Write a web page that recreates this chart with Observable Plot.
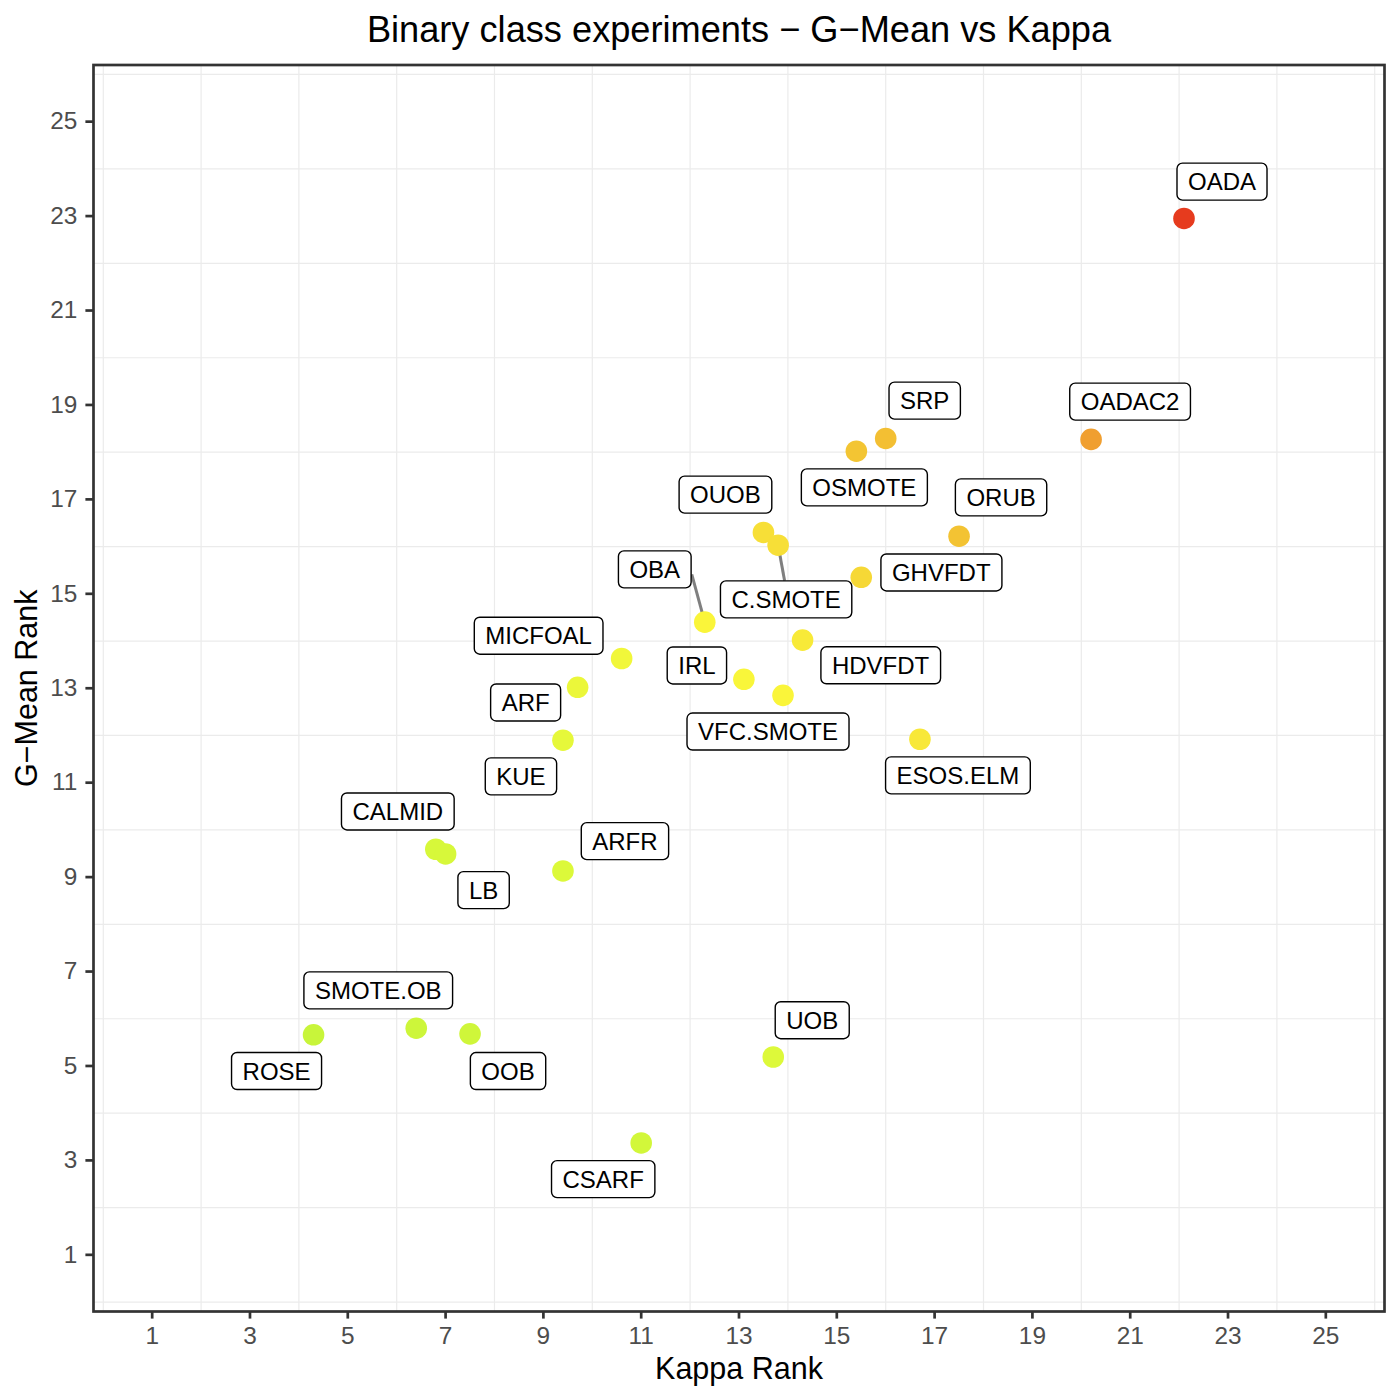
<!DOCTYPE html>
<html>
<head>
<meta charset="utf-8">
<script src="https://cdn.jsdelivr.net/npm/d3@7"></script>
<script src="https://cdn.jsdelivr.net/npm/@observablehq/plot@0.6"></script>
<style>
html, body { margin: 0; padding: 0; background: #ffffff; overflow: hidden; }
#chart svg { display: block; }
</style>
</head>
<body>
<div id="chart"></div>
<script>
// ---- data ----
const names = ["OADA","OADAC2","SRP","OSMOTE","ORUB","OUOB","C.SMOTE","GHVFDT","OBA","HDVFDT","MICFOAL","ARF","IRL","VFC.SMOTE","KUE","ESOS.ELM","CALMID","LB","ARFR","SMOTE.OB","ROSE","OOB","UOB","CSARF"];
const kappaRank = [22.1, 20.2, 16.0, 15.4, 17.5, 13.5, 13.8, 15.5, 12.3, 14.3, 10.6, 9.7, 13.1, 13.9, 9.4, 16.7, 6.8, 7.0, 9.4, 6.4, 4.3, 7.5, 13.7, 11.0];
const gmeanRank = [22.95, 18.27, 18.29, 18.02, 16.22, 16.30, 16.03, 15.35, 14.40, 14.02, 13.63, 13.02, 13.19, 12.85, 11.90, 11.92, 9.59, 9.49, 9.13, 5.80, 5.66, 5.68, 5.19, 3.37];
const tickValues = [1, 3, 5, 7, 9, 11, 13, 15, 17, 19, 21, 23, 25];
const gridValues = [0, 2, 4, 6, 8, 10, 12, 14, 16, 18, 20, 22, 24, 26];
const titleText = "Binary class experiments \u2212 G\u2212Mean vs Kappa";
const xTitle = "Kappa Rank";
const yTitle = "G\u2212Mean Rank";

// colour scale stops (mean rank -> colour)
const colorDomain = [5, 9.3, 13.3, 16.8, 19.2, 22.5];
const colorRange = ["#c8f53a", "#dcf93a", "#faf63a", "#f3c433", "#f0a030", "#e63c1e"];

// ---- repel-style label layout (pixel nudges of label centre from its point) ----
const labelNudge = {
  "OADA": [38, -36], "OADAC2": [39, -37], "SRP": [39, -37], "OSMOTE": [8, 37],
  "ORUB": [42, -38], "OUOB": [-38, -37], "C.SMOTE": [8, 55], "GHVFDT": [80, -4],
  "OBA": [-50, -52], "HDVFDT": [78, 26], "MICFOAL": [-83, -22], "ARF": [-52, 16],
  "IRL": [-47, -13], "VFC.SMOTE": [-15, 37], "KUE": [-42, 37], "ESOS.ELM": [38, 37],
  "CALMID": [-38, -37], "LB": [38, 37], "ARFR": [62, -29], "SMOTE.OB": [-38, -37],
  "ROSE": [-37, 37], "OOB": [38, 38], "UOB": [39, -36], "CSARF": [-38, 37]
};
// segment start, relative to label centre
const segmentStart = { "OBA": [37, 5], "C.SMOTE": [-1.5, -18.5] };

const data = names.map((name, i) => ({
  name, kappa: kappaRank[i], gmean: gmeanRank[i], meanRank: (kappaRank[i] + gmeanRank[i]) / 2
}));

const FONT = "'Liberation Sans', Arial, Helvetica, sans-serif";

const labelMarks = data.map(d => Plot.text([d], {
  x: "kappa", y: "gmean", text: "name",
  dx: labelNudge[d.name][0], dy: labelNudge[d.name][1],
  fontSize: 24, fill: "black", textAnchor: "middle", lineAnchor: "middle"
}));

const chart = Plot.plot({
  width: 1400,
  height: 1400,
  marginLeft: 93,
  marginRight: 16,
  marginTop: 64.5,
  marginBottom: 89,
  style: { fontFamily: FONT, fontSize: "24.4px", background: "#ffffff", color: "#4D4D4D", overflow: "visible" },
  x: { domain: [-0.2, 26.2], ticks: tickValues, tickSize: 7.6, tickPadding: 8, tickFormat: d => String(d), label: null },
  y: { domain: [-0.2, 26.2], ticks: tickValues, tickSize: 7.6, tickPadding: 8.5, tickFormat: d => String(d), label: null },
  color: { type: "linear", domain: colorDomain, range: colorRange, interpolate: "rgb" },
  marks: [
    Plot.ruleX(gridValues, { x: d => d, stroke: "#EBEBEB", strokeWidth: 1.2 }),
    Plot.ruleY(gridValues, { y: d => d, stroke: "#EBEBEB", strokeWidth: 1.2 }),
    Plot.dot(data, { x: "kappa", y: "gmean", r: 10.8, fill: "meanRank", stroke: "none" }),
    ...labelMarks,
    Plot.frame({ stroke: "#333333", strokeWidth: 2.7 }),
    Plot.text([titleText], { text: d => d, frameAnchor: "top", dy: -35, fontSize: 36.2, fill: "black", textAnchor: "middle", lineAnchor: "middle" }),
    Plot.text([xTitle], { text: d => d, frameAnchor: "bottom", dy: 58.2, fontSize: 30.5, fill: "black", textAnchor: "middle", lineAnchor: "middle" }),
    Plot.text([yTitle], { text: d => d, frameAnchor: "left", dx: -66, rotate: -90, fontSize: 30.5, fill: "black", textAnchor: "middle", lineAnchor: "middle" })
  ]
});

document.getElementById("chart").append(chart);

// ---- post-processing: label boxes, segments, axis colours ----
const svg = chart.tagName.toLowerCase() === "svg" ? chart : chart.querySelector("svg");
const NS = "http://www.w3.org/2000/svg";
const sbox = svg.getBoundingClientRect();
const rel = el => {
  const r = el.getBoundingClientRect();
  return { x: r.left - sbox.left, y: r.top - sbox.top, w: r.width, h: r.height };
};

// axis styling
svg.querySelectorAll('[aria-label*="axis"]').forEach(g => {
  g.querySelectorAll("line, path").forEach(p => {
    p.setAttribute("stroke", "#333333");
    p.setAttribute("stroke-width", "2.7");
  });
  g.querySelectorAll("text").forEach(t => {
    t.setAttribute("fill", "#4D4D4D");
    t.style.fontSize = "24.4px";
    t.style.fontFamily = FONT;
  });
});

// find label text elements by content
const nameSet = new Set(names);
const labelTexts = {};
svg.querySelectorAll("text").forEach(t => {
  const s = t.textContent.trim();
  if (nameSet.has(s) && !labelTexts[s]) labelTexts[s] = t;
});

// label boxes
const firstLabel = labelTexts[names[0]];
if (firstLabel) {
  const boxG = document.createElementNS(NS, "g");
  boxG.setAttribute("class", "label-boxes");
  names.forEach(n => {
    const t = labelTexts[n];
    if (!t) return;
    const b = rel(t);
    const rect = document.createElementNS(NS, "rect");
    const padX = 11, h = 37;
    rect.setAttribute("x", b.x - padX);
    rect.setAttribute("y", b.y + b.h / 2 - h / 2);
    rect.setAttribute("width", b.w + 2 * padX);
    rect.setAttribute("height", h);
    rect.setAttribute("rx", 5.5);
    rect.setAttribute("ry", 5.5);
    rect.setAttribute("fill", "#ffffff");
    rect.setAttribute("stroke", "#000000");
    rect.setAttribute("stroke-width", "1.4");
    boxG.appendChild(rect);
  });
  let top = firstLabel;
  while (top.parentNode && top.parentNode !== svg) top = top.parentNode;
  svg.insertBefore(boxG, top);
}

// segments
const circles = [...svg.querySelectorAll("circle")];
if (circles.length >= data.length) {
  const segG = document.createElementNS(NS, "g");
  segG.setAttribute("class", "segments");
  data.forEach((d, i) => {
    const off = segmentStart[d.name];
    const t = labelTexts[d.name];
    if (!off || !t) return;
    const c = rel(circles[i]);
    const b = rel(t);
    const line = document.createElementNS(NS, "line");
    line.setAttribute("x1", b.x + b.w / 2 + off[0]);
    line.setAttribute("y1", b.y + b.h / 2 + off[1]);
    line.setAttribute("x2", c.x + c.w / 2);
    line.setAttribute("y2", c.y + c.h / 2);
    line.setAttribute("stroke", "#7F7F7F");
    line.setAttribute("stroke-width", "3");
    segG.appendChild(line);
  });
  let top = circles[0];
  while (top.parentNode && top.parentNode !== svg) top = top.parentNode;
  svg.insertBefore(segG, top);
}
</script>
</body>
</html>
